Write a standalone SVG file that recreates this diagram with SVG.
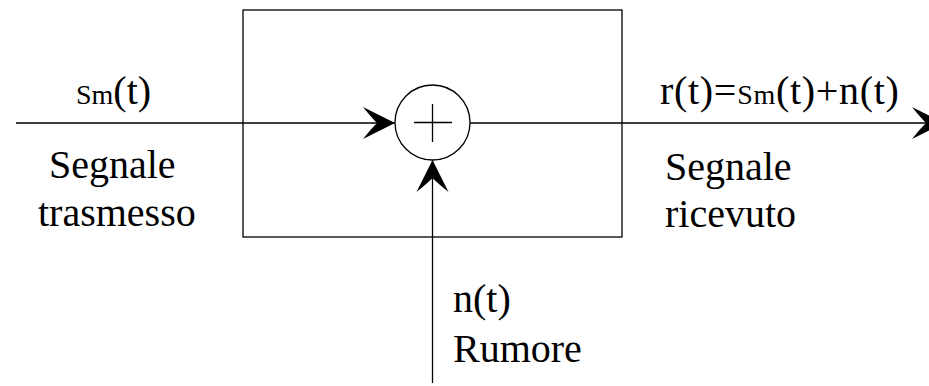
<svg xmlns="http://www.w3.org/2000/svg" width="929" height="386" viewBox="0 0 929 386">
<style>
.ln{stroke:#000;stroke-width:1.3;fill:none}
text{font-family:'Liberation Serif','DejaVu Serif',serif;font-size:40px;fill:#000}
.s{font-size:28px}
</style>
<defs>
<path id="ah" d="M0,0 L-32,-16 Q-24,-6 -18,0 Q-24,6 -32,16 Z" fill="#000"/>
</defs>
<rect width="929" height="386" fill="#fff"/>
<g id="box"><rect class="ln" x="243" y="10" width="379" height="227"/></g>
<g id="adder">
<circle class="ln" cx="432.5" cy="122.5" r="37.5"/>
<line class="ln" x1="414" y1="122.5" x2="452" y2="122.5"/>
<line class="ln" x1="432.5" y1="104" x2="432.5" y2="142"/>
</g>
<g id="connectors">
<line class="ln" x1="16" y1="123" x2="395" y2="123"/>
<use href="#ah" transform="translate(395,123)"/>
<line class="ln" x1="470" y1="123" x2="944" y2="123"/>
<use href="#ah" transform="translate(944,123)"/>
<line class="ln" x1="432.5" y1="160" x2="432.5" y2="383"/>
<use href="#ah" transform="translate(432.5,160) rotate(-90)"/>
</g>
<g id="labels">
<text x="76" y="104"><tspan class="s">Sm</tspan>(t)</text>
<text x="49" y="178">Segnale</text>
<text x="38" y="226">trasmesso</text>
<text x="660" y="104" letter-spacing="0.7">r(t)=<tspan class="s">Sm</tspan>(t)+n(t)</text>
<text x="665" y="180">Segnale</text>
<text x="665" y="227">ricevuto</text>
<text x="453" y="312">n(t)</text>
<text x="453" y="362">Rumore</text>
</g>
</svg>
